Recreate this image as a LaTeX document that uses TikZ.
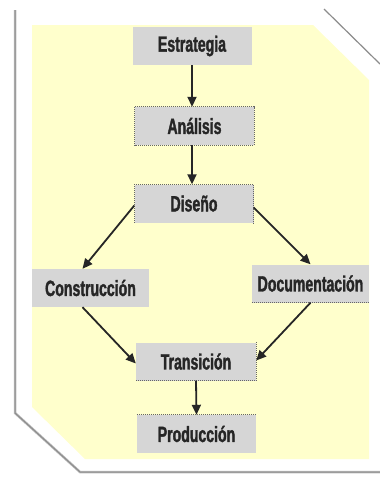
\documentclass[tikz,border=0pt]{standalone}
\usepackage{fontspec}
\setmainfont{Liberation Sans}[FakeStretch=0.64,FakeBold=1.5]
\usetikzlibrary{arrows.meta}
\definecolor{bgyellow}{HTML}{FFFFCC}
\definecolor{boxgray}{HTML}{D6D6D6}
\definecolor{framegray}{HTML}{8C8C8C}
\tikzset{
  stepbox/.style={fill=boxgray, draw=none, minimum width=#1, minimum height=38pt, inner sep=0pt, font=\bfseries\fontsize{22}{24}\selectfont, text=black!85},
  stepbox/.default=119pt,
  flow/.style={line width=1.8pt, black!85, -{Triangle[length=10pt,width=9pt]}},
  dotb/.style={draw=black!60, line width=1pt, densely dotted},
}
\begin{document}
\begin{tikzpicture}[x=1pt,y=-1pt]
\useasboundingbox (0,0) rectangle (380,477);
\fill[white] (0,0) rectangle (380,477);
% frame shadow lines
\draw[framegray!60, line width=2.5pt] (15,10) -- (15,413) -- (80,472) -- (380,472);
\draw[framegray, line width=1pt] (15,10) -- (15,413) -- (80,472) -- (380,472);
\draw[framegray, line width=1.2pt] (324,9) -- (380,64);
% yellow background
\fill[bgyellow] (32,25) -- (313,25) -- (369,80) -- (369,459) -- (85,459) -- (32,407) -- cycle;
% nodes
\node[stepbox] (est) at (192,46) {Estrategia};
\node[stepbox] (ana) at (194.5,126) {Análisis};
\node[stepbox] (dis) at (194,203.5) {Diseño};
\node[stepbox=117pt] (con) at (90.5,288) {Construcción};
\node[stepbox=117pt] (doc) at (310.5,283.5) {Documentación};
\node[stepbox=120pt] (tra) at (196,361.5) {Transición};
\node[stepbox] (pro) at (196.5,434) {Producción};
% dotted borders
\draw[dotb] (ana.north west) rectangle (ana.south east);
\draw[dotb] (dis.south west) -- (dis.north west) -- (dis.north east) -- (dis.south east);
\draw[dotb] (doc.south west) -- (doc.south east);
\draw[dotb] (tra.north east) -- (tra.south east) -- (tra.south west);
\draw[dotb] (pro.north west) -- (pro.north east);
% connectors
\draw[flow] (est.south) -- (ana.north -| est.south);
\draw[flow] (ana.south -| est.south) -- (dis.north -| est.south);
\draw[flow] ([yshift=-2pt]dis.west) -- ([xshift=-8pt]con.north);
\draw[flow] ([yshift=-4pt]dis.east) -- (doc.north);
\draw[flow] ([xshift=-8pt]con.south) -- ([yshift=-2pt]tra.west);
\draw[flow] (doc.south) -- ([yshift=1pt]tra.east);
\draw[flow] (tra.south) -- (pro.north);
\end{tikzpicture}
\end{document}
